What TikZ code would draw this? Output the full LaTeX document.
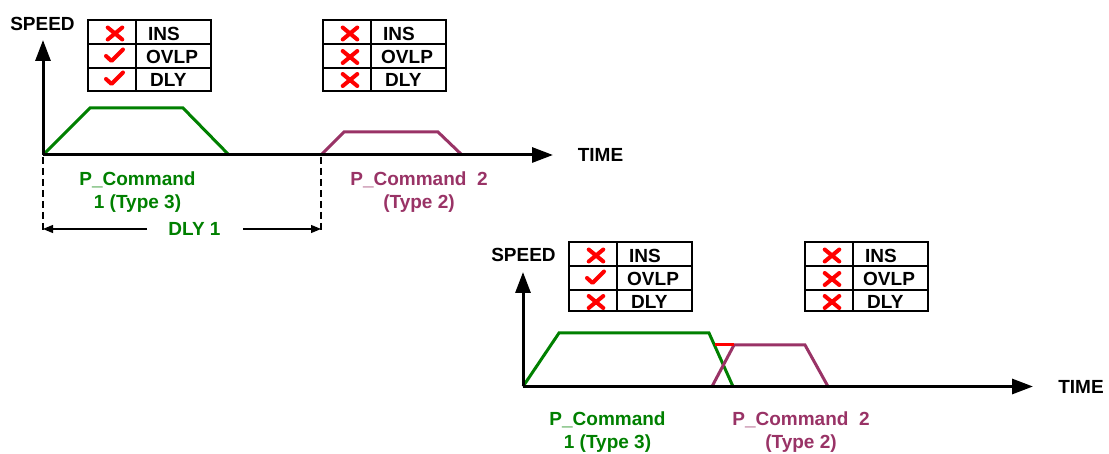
\documentclass[tikz,border=0pt]{standalone}
\usepackage{fontspec}
\setmainfont{Liberation Sans}
\usetikzlibrary{arrows.meta}
\definecolor{pgreen}{RGB}{0,128,0}
\definecolor{pplum}{RGB}{153,51,102}
\definecolor{pred}{RGB}{255,0,0}
\tikzset{
  axisline/.style={line width=3pt, -{Triangle[length=21pt,width=15pt]}},
  profile/.style={line width=3pt, line join=miter},
  lbl/.style={font=\fontsize{19}{23}\selectfont\bfseries, inner sep=0pt},
  tabouter/.style={line width=2.7pt},
  tabinner/.style={line width=1.3pt},
  markline/.style={pred, line width=4pt, line cap=round, line join=round},
  dashmark/.style={line width=1.2pt, dash pattern=on 7pt off 4pt},
  dlyarrow/.style={line width=1.1pt, -{Triangle[length=10pt,width=8pt]}},
  crossmark/.pic={\draw[markline] (-7.3,-6) -- (7.3,6) (-7.3,6) -- (7.3,-6);},
  checkmark/.pic={\draw[markline] (-9,-1) -- (-3.5,4) -- (8,-7.5);}
}
% #1 name, #2 x, #3 y, #4 height, #5 #6 #7 marks
\newcommand\FlagTable[7]{%
  \begin{scope}[shift={(#2,#3)}]
    \draw[tabinner] (0,24) -- (123,24) (0,48) -- (123,48) (48,0) -- (48,#4);
    \draw[tabouter] (0,0) rectangle (123,#4);
    \pic at (27,13.5) {#5};
    \pic at (27,37) {#6};
    \pic at (27,60) {#7};
    \node[lbl, anchor=west] (#1ins) at (60,13.5) {INS};
    \node[lbl, anchor=west] (#1ovlp) at (58,37) {OVLP};
    \node[lbl, anchor=west] (#1dly) at (62,60) {DLY};
  \end{scope}%
}
\begin{document}
\begin{tikzpicture}[x=1pt,y=-1pt]
\useasboundingbox (0,0) rectangle (1109,454);

% ---------- top chart ----------
\coordinate (o1) at (43,155);
\coordinate (y1) at (43,40);
\coordinate (x1) at (553,155);
\draw[profile, pgreen] (o1) -- (90,108) -- (183,108) -- (229,155);
\draw[profile, pplum] (321,155) -- (344,132) -- (438,132) -- (462,155);
\draw[axisline] (o1) -- (y1);
\draw[axisline] (o1) -- (x1);
\node[lbl] (speed1) at (42.5,23.5) {SPEED};
\node[lbl] (time1) at (600.5,155) {TIME};

\FlagTable{ta}{88}{20}{71}{crossmark}{checkmark}{checkmark}
\FlagTable{tb}{323}{20}{71}{crossmark}{crossmark}{crossmark}

\node[lbl, text=pgreen, align=center, anchor=north] (pc1) at (137.5,171.5) {P\_Command\\1 (Type 3)};
\node[lbl, text=pplum, align=center, anchor=north] (pc2) at (419,171.5) {P\_Command\ \ 2\\(Type 2)};

\coordinate (da) at (43,157);
\coordinate (db) at (43,232);
\coordinate (dc) at (321,157);
\coordinate (dd) at (321,232);
\draw[dashmark] (da) -- (db);
\draw[dashmark] (dc) -- (dd);
\node[lbl, text=pgreen] (dly1) at (194.5,229) {DLY 1};
\coordinate (dl) at (43,229);
\coordinate (dr) at (321,229);
\draw[dlyarrow] (147,229) -- (dl);
\draw[dlyarrow] (243,229) -- (dr);

% ---------- bottom chart ----------
\coordinate (o2) at (523,386.5);
\coordinate (y2) at (523,272);
\coordinate (x2) at (1033,386.5);
\draw[profile, pgreen] (o2) -- (559,333) -- (709,333) -- (733,386.5);
\draw[profile, pplum] (712,386.5) -- (734,345) -- (805,345) -- (828,386.5);
\draw[line width=3pt, pred] (714.5,345) -- (734,345);
\draw[axisline] (o2) -- (y2);
\draw[axisline] (o2) -- (x2);
\node[lbl] (speed2) at (523.5,254.5) {SPEED};
\node[lbl] (time2) at (1081,387) {TIME};

\FlagTable{tc}{569}{242}{69}{crossmark}{checkmark}{crossmark}
\FlagTable{td}{805}{242}{69}{crossmark}{crossmark}{crossmark}

\node[lbl, text=pgreen, align=center, anchor=north] (pc3) at (607.5,411.5) {P\_Command\\1 (Type 3)};
\node[lbl, text=pplum, align=center, anchor=north] (pc4) at (801,411.5) {P\_Command\ \ 2\\(Type 2)};
\end{tikzpicture}
\end{document}
